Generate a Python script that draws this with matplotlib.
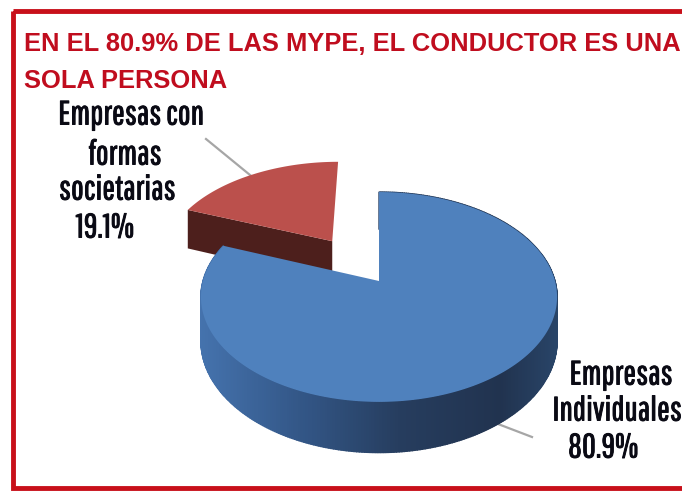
#!/usr/bin/env python3

import numpy as np
import matplotlib
matplotlib.use('Agg')
import matplotlib.pyplot as plt
import matplotlib.patheffects as pe
from matplotlib import font_manager
from matplotlib.patches import Polygon, Rectangle

title_lines = ["EN EL 80.9% DE LAS MYPE, EL CONDUCTOR ES UNA", "SOLA PERSONA"]
categories = ["Empresas Individuales", "Empresas con formas societarias"]
shares = [80.9, 19.1]
label_individuales = ["Empresas", "Individuales", "80.9%"]
label_societarias = ["Empresas con", "formas", "societarias", "19.1%"]

BLUE = "#4f81bd"
RED = "#bb504c"
RED_SIDE = "#4d1f1c"
BORDER = "#c8101a"

# pie centre on the canvas and the tilt of the disc
X0, Y0 = 379, 281
A, B, K = 176, 102.5, 0.152
DEPTH = 43
EXPLODE = 0.5


def project(x, y, drop=0):
    # perspective view of a point of the flat unit disc
    w = 1 + K * y
    return X0 + A * x / w, Y0 - B * y / w + drop / w


def arc(t0, t1, n=200):
    t = np.radians(np.linspace(t0, t1, n))
    return np.cos(t), np.sin(t)


# the labels are in a squeezed sans, fall back on Liberation if it is not there
installed = {f.name for f in font_manager.fontManager.ttflist}
if "Pathway Gothic One" in installed:
    label_font, label_size = "Pathway Gothic One", 24.3
else:
    label_font, label_size = "Liberation Sans", 16

fig = plt.figure(figsize=(6.82, 4.94), dpi=100)
ax = fig.add_axes([0, 0, 1, 1])
ax.set_xlim(0, 682)
ax.set_ylim(494, 0)
ax.axis("off")

# slices start at the top and the small one runs counterclockwise
red_end = 90 + 360 * shares[1] / sum(shares)
blue_end = red_end + 360 * shares[0] / sum(shares)
mid = np.radians((90 + red_end) / 2)
ox, oy = EXPLODE * np.cos(mid), EXPLODE * np.sin(mid)

# red slice, pulled out
cx, cy = arc(90, red_end)
cx, cy = cx + ox, cy + oy
px, py = project(cx, cy)
ax_, ay_ = project(ox, oy)
bx_, by_ = project(ox, oy, DEPTH)
lx, ly = project(cx[-1], cy[-1], DEPTH)
ax.add_patch(Polygon([(px[-1], py[-1]), (ax_, ay_), (bx_, by_), (lx, ly)],
                     fc=RED_SIDE, ec="none", zorder=2))
ax.add_patch(Polygon(np.column_stack([np.r_[ax_, px], np.r_[ay_, py]]),
                     fc=RED, ec="none", zorder=3))

# blue slice, wall in thin strips so it can shade to the right
cx, cy = arc(red_end, blue_end, 400)
px, py = project(cx, cy)
lx, ly = project(cx, cy, DEPTH)
shade_x = [201, 300, 400, 500, 559]
shade = np.array([[0.27, 0.45, 0.68], [0.20, 0.34, 0.53], [0.15, 0.24, 0.37],
                  [0.13, 0.20, 0.31], [0.16, 0.27, 0.41]])
for i in range(len(px) - 1):
    col = [np.interp(px[i], shade_x, shade[:, j]) for j in range(3)]
    ax.add_patch(Polygon([(px[i], py[i]), (px[i + 1], py[i + 1]), (lx[i + 1], ly[i + 1]), (lx[i], ly[i])],
                         fc=col, ec=col, lw=1, zorder=4))
ax.add_patch(Polygon(np.column_stack([np.r_[X0, px], np.r_[Y0, py]]),
                     fc=BLUE, ec="none", zorder=5))

# leader lines
ax.plot([206, 250], [139, 175], color="#a6a6a6", lw=1.6, zorder=1)
ax.plot([498, 532], [424, 437], color="#a6a6a6", lw=1.6, zorder=1)

# red frame
ax.add_patch(Rectangle((13, 11), 700, 477, fc="none", ec=BORDER, lw=3.5, zorder=6))

# title
for txt, y in zip(title_lines, [44, 81]):
    ax.text(24, y, txt, color="#c00d1e", fontsize=18.4, fontweight="bold",
            family="Liberation Sans", ha="left", va="center", zorder=7)

# thin outline so the labels look as heavy as in the original
heavy = [pe.withStroke(linewidth=0.7, foreground="#0a0a14")]
for txt, x, y in zip(label_societarias, [131, 125, 117, 105], [115, 155, 190, 228]):
    ax.text(x, y, txt, fontsize=label_size, family=label_font, color="#0a0a14",
            ha="center", va="center", zorder=7, path_effects=heavy)
for txt, x, y in zip(label_individuales, [621, 617, 603], [375, 411, 448]):
    ax.text(x, y, txt, fontsize=label_size, family=label_font, color="#0a0a14",
            ha="center", va="center", zorder=7, path_effects=heavy)

fig.savefig("out.png", dpi=100)
